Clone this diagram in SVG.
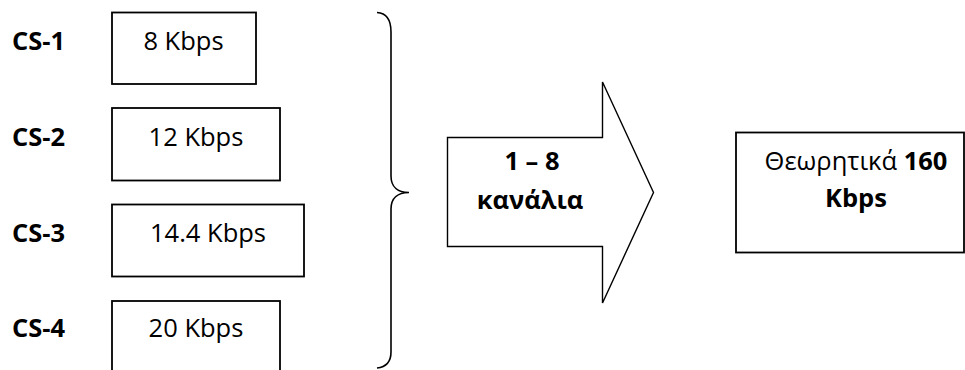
<svg xmlns="http://www.w3.org/2000/svg" width="965" height="370" viewBox="0 0 965 370">
  <style>
    .box { fill: #ffffff; stroke: #000000; stroke-width: 1.8; }
    .shape { fill: #ffffff; stroke: #000000; stroke-width: 1.4; stroke-linejoin: miter; }
    .brace { fill: none; stroke: #000000; stroke-width: 1.6; }
    text { font-family: "Open Sans", "Liberation Sans", sans-serif; font-size: 25.5px; fill: #000000; }
    .b { font-weight: bold; }
    .mid { text-anchor: middle; }
  </style>
  <rect width="965" height="370" fill="#ffffff"/>

  <!-- coding schemes -->
  <g id="cs1">
    <text class="b" x="12" y="50">CS-1</text>
    <rect class="box" x="112" y="12.5" width="144" height="71.5"/>
    <text class="mid" x="183.5" y="50">8 Kbps</text>
  </g>
  <g id="cs2">
    <text class="b" x="12" y="145.5">CS-2</text>
    <rect class="box" x="112" y="108" width="168" height="72.5"/>
    <text class="mid" x="196" y="145.5">12 Kbps</text>
  </g>
  <g id="cs3">
    <text class="b" x="12" y="241.5">CS-3</text>
    <rect class="box" x="112" y="204.5" width="192" height="72"/>
    <text class="mid" x="208" y="241.5">14.4 Kbps</text>
  </g>
  <g id="cs4">
    <text class="b" x="12" y="337">CS-4</text>
    <rect class="box" x="112" y="301" width="168" height="80"/>
    <text class="mid" x="196" y="337">20 Kbps</text>
  </g>

  <g id="connectors">
    <!-- curly brace grouping the four schemes -->
    <path class="brace" d="M377,12.5 C386,13 391,20 391,32 L391,176 C391,187 398,192.5 409,192.5 C398,192.5 391,198 391,209 L391,352 C391,362 386,367 377,368"/>
  </g>

  <!-- block arrow -->
  <g id="channels">
    <path class="shape" d="M447.5,137.5 L602.5,137.5 L602.5,82 L653.5,192.5 L602.5,303 L602.5,246.5 L447.5,246.5 Z"/>
    <text class="b mid" x="532" y="170">1 – 8</text>
    <text class="b mid" x="530" y="209">κανάλια</text>
  </g>

  <!-- resulting rate -->
  <g id="result">
    <rect class="box" x="736" y="132.5" width="228" height="120"/>
    <text class="mid" x="856" y="170">Θεωρητικά <tspan class="b">160</tspan></text>
    <text class="b mid" x="856" y="207">Kbps</text>
  </g>
</svg>
